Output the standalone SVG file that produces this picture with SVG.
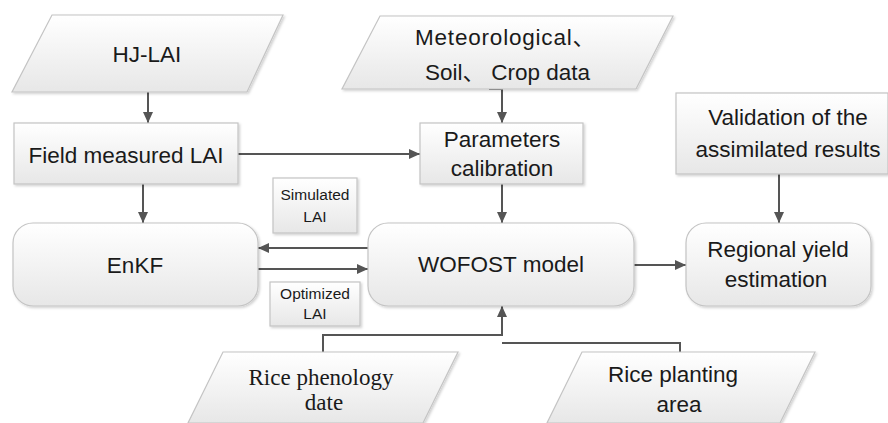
<svg xmlns="http://www.w3.org/2000/svg" width="888" height="423" viewBox="0 0 888 423">
<defs>
<linearGradient id="g" x1="0" y1="0" x2="0" y2="1">
<stop offset="0" stop-color="#ffffff"/>
<stop offset="1" stop-color="#e7e7e7"/>
</linearGradient>
<filter id="sh" x="-5%" y="-5%" width="115%" height="120%">
<feDropShadow dx="1.5" dy="1.5" stdDeviation="1.2" flood-color="#000" flood-opacity="0.18"/>
</filter>
<marker id="ah" markerUnits="userSpaceOnUse" markerWidth="11" markerHeight="10" refX="11" refY="5" orient="auto">
<path d="M0,0 L11,5 L0,10 z" fill="#555"/>
</marker>
</defs>
<style>
.n{fill:url(#g);stroke:#c4c4c4;stroke-width:1.2;filter:url(#sh)}
.t{font-family:"Liberation Sans","Noto Sans CJK SC",sans-serif;font-size:22.5px;fill:#1a1a1a;text-anchor:middle}
.s{font-family:"Liberation Sans",sans-serif;font-size:15.5px;fill:#1a1a1a;text-anchor:middle}
.r{font-family:"Liberation Serif",serif;font-size:23px;fill:#1a1a1a;text-anchor:middle}
.c{fill:none;stroke:#555;stroke-width:2}
</style>
<g id="connectors">
<path class="c" d="M148,92 V123" marker-end="url(#ah)"/>
<path class="c" d="M238,154 H420" marker-end="url(#ah)"/>
<path class="c" d="M489,89 H502 V123" marker-end="url(#ah)"/>
<path class="c" d="M502,184 V223" marker-end="url(#ah)"/>
<path class="c" d="M143,184 V223" marker-end="url(#ah)"/>
<path class="c" d="M368,248 H258" marker-end="url(#ah)"/>
<path class="c" d="M258,269 H368" marker-end="url(#ah)"/>
<path class="c" d="M779,174 V223" marker-end="url(#ah)"/>
<path class="c" d="M634,265 H686" marker-end="url(#ah)"/>
<path class="c" d="M323,352 V335 H502 V306" marker-end="url(#ah)"/>
<path class="c" d="M680,352 V343 H502"/>
</g>
<g id="hj-lai">
<polygon class="n" points="52,15 283,15 247,92 12,92"/>
<text class="t" x="147" y="62">HJ-LAI</text>
</g>
<g id="field-lai">
<rect class="n" x="14" y="123" width="224" height="61"/>
<text class="t" x="126" y="163">Field measured LAI</text>
</g>
<g id="meteo">
<polygon class="n" points="380,16 673,16 636,89 342,89"/>
<text class="t" x="415" y="45" style="text-anchor:start" textLength="180" lengthAdjust="spacing">Meteorological、</text>
<text class="t" x="425" y="80" style="text-anchor:start">Soil、 Crop data</text>
</g>
<g id="params">
<rect class="n" x="420" y="123" width="163" height="61"/>
<text class="t" x="502" y="147">Parameters</text>
<text class="t" x="502" y="176">calibration</text>
</g>
<g id="validation">
<rect class="n" x="676" y="93" width="212" height="81"/>
<text class="t" x="788" y="125">Validation of the</text>
<text class="t" x="788" y="157">assimilated results</text>
</g>
<g id="simulated">
<rect class="n" x="273" y="178" width="84" height="55"/>
<text class="s" x="315" y="200">Simulated</text>
<text class="s" x="315" y="222">LAI</text>
</g>
<g id="optimized">
<rect class="n" x="270" y="282" width="90" height="44"/>
<text class="s" x="315" y="299">Optimized</text>
<text class="s" x="315" y="319">LAI</text>
</g>
<g id="enkf">
<rect class="n" x="13" y="223" width="245" height="83" rx="20"/>
<text class="t" x="135" y="273">EnKF</text>
</g>
<g id="wofost">
<rect class="n" x="368" y="223" width="266" height="83" rx="20"/>
<text class="t" x="501" y="272">WOFOST model</text>
</g>
<g id="regional">
<rect class="n" x="686" y="223" width="185" height="83" rx="20"/>
<text class="t" x="778" y="257">Regional yield</text>
<text class="t" x="776" y="287">estimation</text>
</g>
<g id="phenology">
<polygon class="n" points="223,352 458,352 423,423 188,423"/>
<text class="r" x="321" y="385">Rice phenology</text>
<text class="r" x="324" y="410">date</text>
</g>
<g id="planting">
<polygon class="n" points="582,352 815,352 780,423 547,423"/>
<text class="t" x="673" y="382">Rice planting</text>
<text class="t" x="679" y="412">area</text>
</g>
</svg>
